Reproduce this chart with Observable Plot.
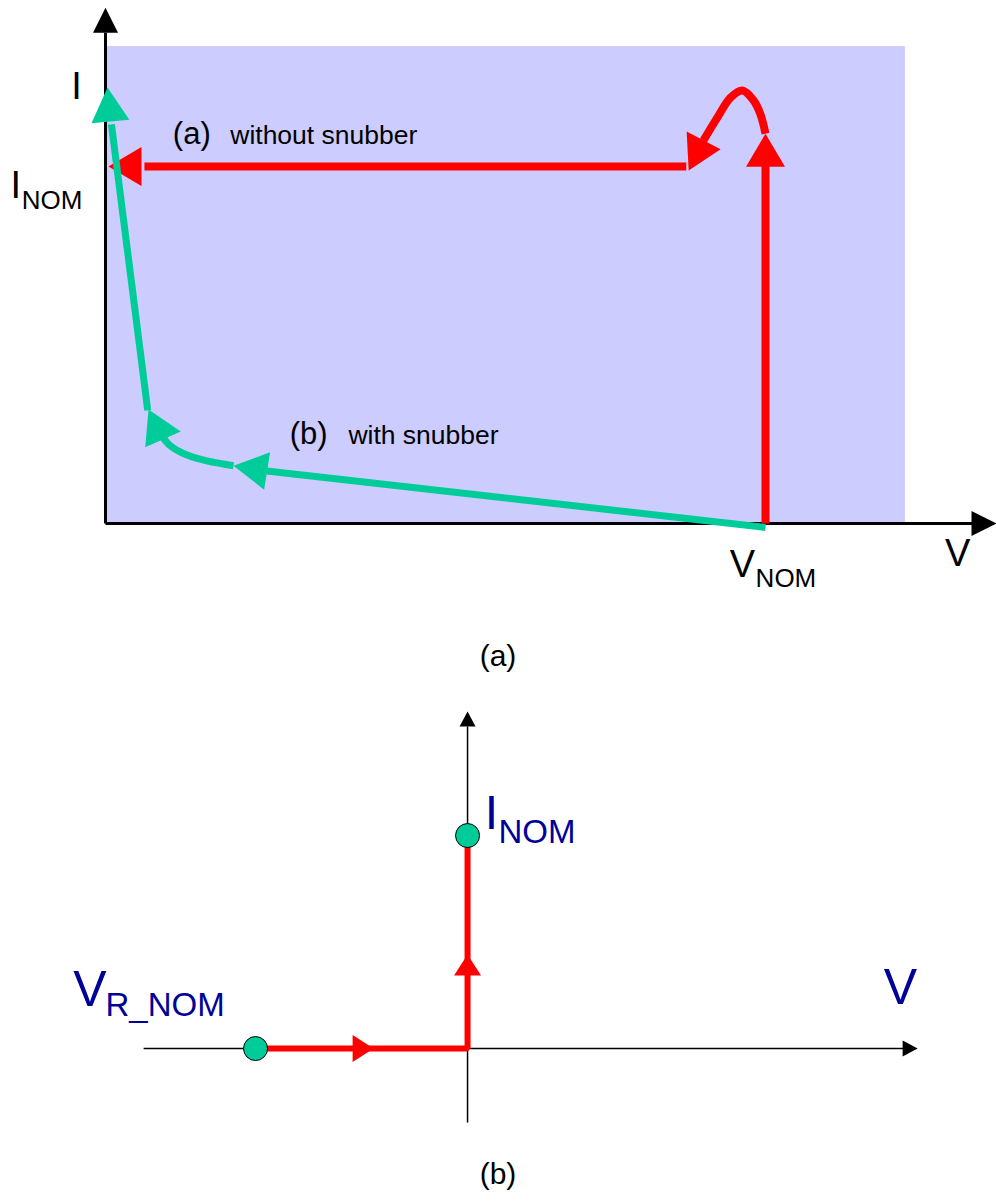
<!DOCTYPE html>
<html>
<head>
<meta charset="utf-8">
<script src="https://cdn.jsdelivr.net/npm/d3@7"></script>
<script src="https://cdn.jsdelivr.net/npm/@observablehq/plot@0.6"></script>
<style>
  body { margin: 0; background: #fff; font-family: "Liberation Sans", Arial, sans-serif; }
  #wrap { width: 996px; }
  #wrap svg { display: block; }
  .cap { width: 996px; text-align: center; font-size: 30px; line-height: 30px; box-sizing: border-box; color: #000; }
</style>
</head>
<body>
<div id="wrap"></div>
<script>
// ---------------- DATA: panel (a)  (V, I in % of nominal) ----------------
const regionA = [{v1: 0, v2: 121.2, i1: 0, i2: 133.6}];
const axesA = [
  {v1: 0, i1: 0, v2: 0, i2: 137.5},
  {v1: 0, i1: 0, v2: 131.8, i2: 0}
];
const axisHeadsA = [
  {v: 0, i: 144.5, dir: 0},
  {v: 135, i: 0, dir: 90}
];
// red trajectory (a) without snubber
const redPathA = [
  {seg: "rise", v: 100, i: 0}, {seg: "rise", v: 100, i: 101},
  {seg: "bump", v: 90.6, i: 107.3}, {seg: "bump", v: 92.7, i: 113.7}, {seg: "bump", v: 94.7, i: 119.3},
  {seg: "bump", v: 96.5, i: 121.3}, {seg: "bump", v: 98.2, i: 118.5}, {seg: "bump", v: 99.2, i: 114.8},
  {seg: "bump", v: 100, i: 109.2},
  {seg: "flat", v: 88.0, i: 100}, {seg: "flat", v: 5.9, i: 100}
];
const redHeadsA = [
  {v: 100, i: 109.2, dir: 0},
  {v: 93.2, i: 104.8, dir: 87},
  {v: 0.45, i: 100, dir: -90}
];
// green trajectory (b) with snubber
const greenPathA = [
  {seg: "fall", v: 100, i: -1.1}, {seg: "fall", v: 24.1, i: 14.8},
  {seg: "knee", v: 19.4, i: 16.2}, {seg: "knee", v: 15.2, i: 17.6}, {seg: "knee", v: 11.8, i: 19.6},
  {seg: "knee", v: 9.8, i: 21.8}, {seg: "knee", v: 8.6, i: 24.4},
  {seg: "up", v: 6.4, i: 31.7}, {seg: "up", v: 0.9, i: 111.8}
];
const greenHeadsA = [
  {v: 19.4, i: 16.2, dir: -81},
  {v: 11.4, i: 25.8, dir: 95},
  {v: 0.3, i: 122.1, dir: -5}
];
const symbolsA = [
  {label: "I", v: -4.4, i: 119.0},
  {label: "I", v: -13.6, i: 91.3},
  {label: "V", v: 129.1, i: -11.8},
  {label: "V", v: 96.5, i: -15.1}
];
const subscriptsA = [
  {label: "NOM", v: -12.7, i: 88.2},
  {label: "NOM", v: 98.5, i: -17.9}
];
const tagsA = [
  {label: "(a)", v: 10.2, i: 106.2},
  {label: "(b)", v: 27.9, i: 22.4}
];
const notesA = [
  {label: "without snubber", v: 18.9, i: 106.4},
  {label: "with snubber", v: 36.8, i: 22.4}
];

// ---------------- DATA: panel (b) ----------------
const axesB = [
  {v1: -152.8, i1: 0, v2: 205.7, i2: 0},
  {v1: 0, i1: -34.7, v2: 0, i2: 151.2}
];
const axisHeadsB = [
  {v: 212.3, i: 0, dir: 90},
  {v: 0, i: 158.2, dir: 0}
];
const redPathB = [
  {v: -100, i: 0}, {v: 0, i: 0}, {v: 0, i: 100}
];
const redHeadsB = [
  {v: -44.3, i: 0, dir: 90},
  {v: 0, i: 44.1, dir: 0}
];
const statesB = [
  {v: -100, i: 0},
  {v: 0, i: 100}
];
const symbolsB = [
  {label: "V", v: -178.1, i: 20.2},
  {label: "V", v: 204.2, i: 21.1}
];
const symbolIB = [{label: "I", v: 11.3, i: 103.3}];
const subscriptsB = [
  {label: "R_NOM", v: -170.8, i: 15.5},
  {label: "NOM", v: 14.6, i: 96.7}
];

const captions = ["(a)", "(b)"];

// ---------------- DRAWING ----------------
const FONT = "Liberation Sans, Arial, sans-serif";
const RED = "#ff0000", GREEN = "#00cc99", SHADE = "#ccccff", BLUE = "#000099";
const tri = {draw(ctx, l, r) { ctx.moveTo(0, -l); ctx.lineTo(r, 0); ctx.lineTo(-r, 0); ctx.closePath(); }};
const head = (data, fill, length, r) =>
  Plot.vector(data, {x: "v", y: "i", rotate: "dir", length, r, shape: tri, anchor: "end", fill, stroke: "none"});

const plotA = Plot.plot({
  width: 996, height: 620,
  marginLeft: 105, marginRight: 0, marginTop: 0, marginBottom: 97,
  x: {domain: [0, 135], axis: null},
  y: {domain: [0, 146.5], axis: null},
  style: {fontFamily: FONT, background: "#fff", overflow: "visible"},
  marks: [
    Plot.rect(regionA, {x1: "v1", x2: "v2", y1: "i1", y2: "i2", fill: SHADE}),
    Plot.link(axesA, {x1: "v1", y1: "i1", x2: "v2", y2: "i2", stroke: "#000", strokeWidth: 3, strokeLinecap: "butt"}),
    head(axisHeadsA, "#000", 25, 12.5),
    Plot.line(redPathA, {x: "v", y: "i", z: "seg", curve: "catmull-rom", stroke: RED, strokeWidth: 8, strokeLinecap: "butt"}),
    head(redHeadsA, RED, 33, 19.5),
    Plot.line(greenPathA, {x: "v", y: "i", z: "seg", curve: "catmull-rom", stroke: GREEN, strokeWidth: 7, strokeLinecap: "butt"}),
    head(greenHeadsA, GREEN, 34, 19),
    Plot.text(symbolsA, {x: "v", y: "i", text: "label", fontSize: 38, textAnchor: "middle", lineAnchor: "bottom", fill: "#000"}),
    Plot.text(subscriptsA, {x: "v", y: "i", text: "label", fontSize: 26, textAnchor: "start", lineAnchor: "bottom", fill: "#000"}),
    Plot.text(tagsA, {x: "v", y: "i", text: "label", fontSize: 31, textAnchor: "start", lineAnchor: "bottom", fill: "#000"}),
    Plot.text(notesA, {x: "v", y: "i", text: "label", fontSize: 26.5, textAnchor: "start", lineAnchor: "bottom", fill: "#000"})
  ]
});

const plotB = Plot.plot({
  width: 996, height: 469,
  marginLeft: 0, marginRight: 0, marginTop: 0, marginBottom: 0,
  x: {domain: [-220.3, 249.5], axis: null},
  y: {domain: [-52.1, 168.1], axis: null},
  style: {fontFamily: FONT, background: "#fff", overflow: "visible"},
  marks: [
    Plot.link(axesB, {x1: "v1", y1: "i1", x2: "v2", y2: "i2", stroke: "#000", strokeWidth: 1.5, strokeLinecap: "butt"}),
    head(axisHeadsB, "#000", 15, 8),
    Plot.line(redPathB, {x: "v", y: "i", stroke: RED, strokeWidth: 6, strokeLinecap: "butt", strokeLinejoin: "miter"}),
    head(redHeadsB, RED, 21, 13.5),
    Plot.dot(statesB, {x: "v", y: "i", r: 12, fill: GREEN, stroke: "#000", strokeWidth: 1}),
    Plot.text(symbolsB, {x: "v", y: "i", text: "label", fontSize: 50, textAnchor: "middle", lineAnchor: "bottom", fill: BLUE}),
    Plot.text(symbolIB, {x: "v", y: "i", text: "label", fontSize: 48, textAnchor: "middle", lineAnchor: "bottom", fill: BLUE}),
    Plot.text(subscriptsB, {x: "v", y: "i", text: "label", fontSize: 33, textAnchor: "start", lineAnchor: "bottom", fill: BLUE})
  ]
});

const wrap = document.getElementById("wrap");
wrap.appendChild(plotA);
const capA = document.createElement("div");
capA.className = "cap"; capA.style.height = "70px"; capA.style.paddingTop = "21px";
capA.textContent = captions[0];
wrap.appendChild(capA);
wrap.appendChild(plotB);
const capB = document.createElement("div");
capB.className = "cap"; capB.style.height = "42px"; capB.style.paddingTop = "0px";
capB.textContent = captions[1];
wrap.appendChild(capB);
</script>
</body>
</html>
